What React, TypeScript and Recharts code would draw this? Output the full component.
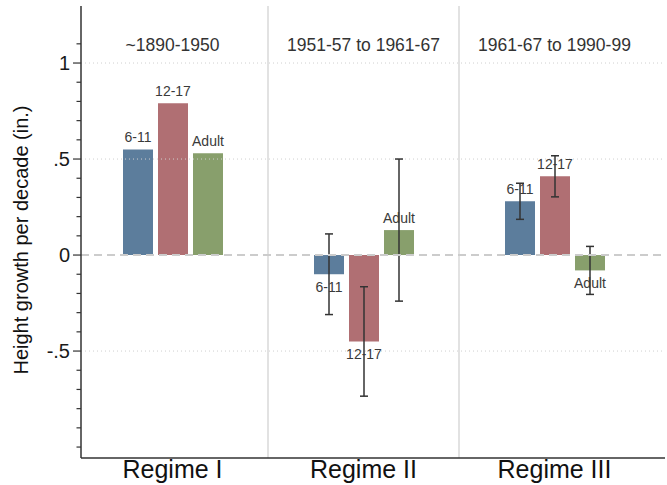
import React from 'react';
import { BarChart, Bar, XAxis, YAxis, ReferenceLine, ErrorBar, LabelList } from 'recharts';

const categories = ['Regime I', 'Regime II', 'Regime III'];
const periods = ['~1890-1950', '1951-57 to 1961-67', '1961-67 to 1990-99'];
const seriesNames = ['6-11', '12-17', 'Adult'];
const age611 = [0.55, -0.1, 0.28];
const age1217 = [0.79, -0.45, 0.41];
const adult = [0.53, 0.13, -0.08];
const err611 = [undefined, 0.21, 0.094];
const err1217 = [undefined, 0.285, 0.107];
const errAdult = [undefined, 0.37, 0.125];
const yTicks = [-1, -0.9, -0.8, -0.7, -0.6, -0.5, -0.4, -0.3, -0.2, -0.1, 0, 0.1, 0.2, 0.3, 0.4, 0.5, 0.6, 0.7, 0.8, 0.9, 1, 1.1];
const yTickLabels: Record<string, string> = { '1': '1', '0.5': '.5', '0': '0', '-0.5': '-.5' };
const gridLines = [1, 0.5, -0.5];
const separatorCats = ['Regime II', 'Regime III'];
const colors = ['#5c7d9c', '#b06f73', '#889f6c'];

const data = categories.map((c, i) => ({
  regime: c,
  period: periods[i],
  a: age611[i],
  b: age1217[i],
  c: adult[i],
  ea: err611[i],
  eb: err1217[i],
  ec: errAdult[i],
}));

const FONT = 'Liberation Sans, Arial, Helvetica, sans-serif';
const PAD = { left: -4, right: 15 };

const YTick = (props: any) => {
  const { x, y, payload } = props;
  const key = String(Math.round(payload.value * 10) / 10);
  const label = yTickLabels[key];
  return (
    <g>
      <line x1={x - (label ? 8 : 4.5)} x2={x} y1={y} y2={y} stroke="#333" strokeWidth={1.2} />
      {label && (
        <text x={x - 11} y={y} dy="0.36em" textAnchor="end" fontSize={20} fill="#1a1a1a" fontFamily={FONT}>
          {label}
        </text>
      )}
    </g>
  );
};

const XTick = (props: any) => {
  const { x, y, payload, index } = props;
  const i = typeof index === 'number' ? index : categories.indexOf(payload.value);
  return (
    <g>
      <text x={x} y={y + 20} textAnchor="middle" fontSize={25} fill="#111" fontFamily={FONT}>
        {payload.value}
      </text>
      <text x={x} y={51} textAnchor="middle" fontSize={17.5} fill="#333" fontFamily={FONT}>
        {periods[i]}
      </text>
    </g>
  );
};

const makeLabel = (name: string) => (props: any) => {
  const { x, y, width, height, value } = props;
  if (value == null) return null;
  const top = Math.min(y, y + height);
  const bottom = Math.max(y, y + height);
  const cx = x + width / 2;
  const ty = value >= 0 ? top - 7 : bottom + 18;
  return (
    <text x={cx} y={ty} textAnchor="middle" fontSize={14} fill="#3a3a3a" fontFamily={FONT}>
      {name}
    </text>
  );
};

const YTitle = () => (
  <text
    x={21}
    y={240}
    transform="rotate(-90 21 240)"
    textAnchor="middle"
    dominantBaseline="central"
    fontSize={20}
    fill="#111"
    fontFamily={FONT}
  >
    Height growth per decade (in.)
  </text>
);

export default function App() {
  const keys = ['a', 'b', 'c'];
  const errKeys = ['ea', 'eb', 'ec'];
  return (
    <div style={{ position: 'absolute', left: 0, top: 0, width: 667, height: 485, background: '#fff', fontFamily: FONT }}>
      <BarChart
        width={667}
        height={485}
        data={data}
        margin={{ top: 6, right: 2, bottom: 0, left: 0 }}
        barSize={30}
        barGap={5}
      >
        <XAxis
          dataKey="regime"
          height={27}
          padding={PAD}
          tick={<XTick />}
          tickSize={0}
          tickMargin={0}
          tickLine={false}
          axisLine={{ stroke: '#333', strokeWidth: 1.5 }}
          interval={0}
        />
        <YAxis
          width={81}
          type="number"
          domain={[-1.057, 1.297]}
          allowDataOverflow
          ticks={yTicks}
          interval={0}
          tick={<YTick />}
          tickSize={0}
          tickMargin={0}
          tickLine={false}
          axisLine={{ stroke: '#333', strokeWidth: 1.5 }}
          label={{ content: <YTitle /> }}
        />
        {gridLines.map((g) => (
          <ReferenceLine key={g} y={g} stroke="#cfcfcf" strokeDasharray="1 3" strokeWidth={1} />
        ))}
        {separatorCats.map((s) => (
          <ReferenceLine key={'s' + s} x={s} position="start" stroke="#d9d9d9" strokeWidth={1.5} />
        ))}
        {keys.map((k, i) => (
          <Bar key={k} dataKey={k} fill={colors[i]} isAnimationActive={false}>
            <ErrorBar dataKey={errKeys[i]} width={4} stroke="#333" strokeWidth={1.5} direction="y" />
            <LabelList dataKey={k} content={makeLabel(seriesNames[i])} />
          </Bar>
        ))}
        <ReferenceLine y={0} stroke="#cccccc" strokeWidth={2} strokeDasharray="8 5" />
      </BarChart>
    </div>
  );
}
